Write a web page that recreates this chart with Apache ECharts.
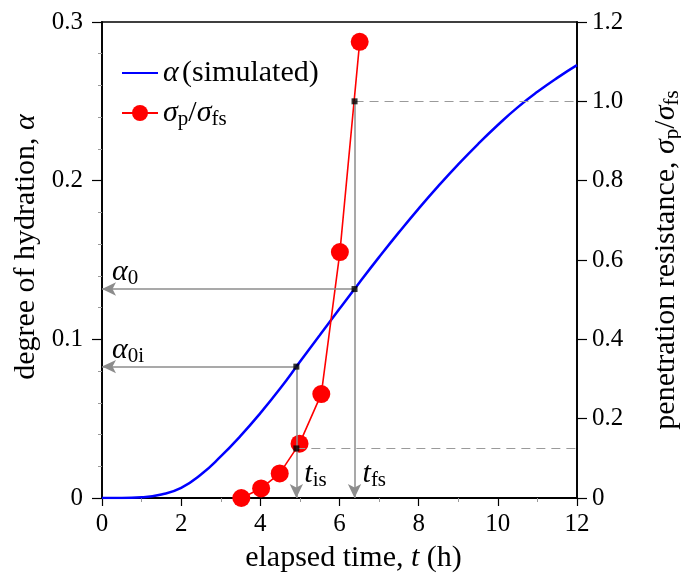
<!DOCTYPE html>
<html>
<head>
<meta charset="utf-8">
<script src="https://cdn.jsdelivr.net/npm/echarts@6/dist/echarts.min.js"></script>
<style>
  html, body { margin: 0; padding: 0; background: #fff; }
  #chart { width: 681px; height: 577px; }
</style>
</head>
<body>
<div id="chart"></div>
<script>
// Simulated degree of hydration vs elapsed time (h)
const hydrationTime  = [0, 0.5, 1, 1.5, 2, 2.5, 3, 3.5, 4, 4.5, 5, 5.5, 6, 6.5, 7, 7.5, 8, 8.5, 9, 9.5, 10, 10.5, 11, 11.5, 12];
const hydrationAlpha = [0, 0, 0.0004, 0.0022, 0.0064, 0.0148, 0.0262, 0.0392, 0.0535, 0.069, 0.0858, 0.1025, 0.1192, 0.1357, 0.1518, 0.1674, 0.1824, 0.1967, 0.2103, 0.2231, 0.2351, 0.2462, 0.256, 0.2648, 0.2728];

// Measured penetration resistance, normalised by the final-set value
const penetrationTime  = [3.52, 4.02, 4.49, 4.99, 5.54, 6.01, 6.51];
const penetrationRatio = [0, 0.024, 0.062, 0.137, 0.262, 0.62, 1.15];

// Initial / final set
const tInitialSet = 4.91;
const tFinalSet = 6.38;
const alphaInitialSet = 0.0828;
const alphaFinalSet = 0.1317;
const sigmaInitialSet = 0.125;
const sigmaFinalSet = 1.0;

// Tick labels
const xTickLabels = ['0', '2', '4', '6', '8', '10', '12'];
const leftTickLabels = ['0', '0.1', '0.2', '0.3'];
const rightTickLabels = ['0', '0.2', '0.4', '0.6', '0.8', '1.0', '1.2'];

const SERIF = '"Liberation Serif", "Times New Roman", serif';
const GREY = '#8c8c8c';

function richSet(size, subSize) {
  return {
    n: { fontFamily: SERIF, fontSize: size, lineHeight: size + 4, color: '#000' },
    i: { fontFamily: SERIF, fontSize: size, lineHeight: size + 4, fontStyle: 'italic', color: '#000' },
    s: { fontFamily: SERIF, fontSize: subSize, lineHeight: Math.round(subSize * 0.6), verticalAlign: 'bottom', color: '#000' }
  };
}
const richBig = richSet(30, 21);

const chart = echarts.init(document.getElementById('chart'), null, { renderer: 'canvas' });

const hydrationData = hydrationTime.map((t, k) => [t, hydrationAlpha[k]]);
const penetrationData = penetrationTime.map((t, k) => [t, penetrationRatio[k]]);

const tickFont = { fontFamily: SERIF, fontSize: 25, color: '#000' };

chart.setOption({
  animation: false,
  backgroundColor: '#fff',
  grid: {
    left: 102, right: 104, top: 22, bottom: 79,
    outerBoundsMode: 'none', containLabel: false,
    show: true, borderColor: '#000', borderWidth: 1.5, backgroundColor: 'transparent'
  },
  legend: {
    orient: 'vertical',
    left: 116, top: 53,
    itemWidth: 36, itemHeight: 20, itemGap: 10,
    data: [{ name: 'alpha', itemStyle: { opacity: 0 } }, { name: 'sigma' }],
    textStyle: { rich: richBig },
    formatter: function (name) {
      return name === 'alpha'
        ? '{i|α} {n|(simulated)}'
        : '{i|σ}{s|p}{n|/}{i|σ}{s|fs}';
    }
  },
  xAxis: {
    type: 'value', min: 0, max: 12, interval: 2,
    name: '{n|elapsed time, }{i|t}{n| (h)}',
    nameLocation: 'middle', nameGap: 43,
    nameTextStyle: { rich: richBig, padding: [0, 0, 0, 28] },
    axisLine: { lineStyle: { color: '#000', width: 1.8 } },
    axisTick: { length: 8, lineStyle: { color: '#000', width: 1.2 } },
    minorTick: { show: true, splitNumber: 2, length: 4, lineStyle: { color: '#999', width: 1 } },
    splitLine: { show: false },
    axisLabel: Object.assign({ margin: 14, formatter: v => xTickLabels[Math.round(v / 2)] }, tickFont)
  },
  yAxis: [
    {
      type: 'value', min: 0, max: 0.3, interval: 0.1, position: 'left',
      name: '{n|degree of hydration, }{i|α}',
      nameLocation: 'middle', nameGap: 58, nameRotate: 90,
      nameTextStyle: { rich: richBig, padding: [0, 0, 0, 26] },
      axisLine: { show: true, lineStyle: { color: '#000', width: 1.8 } },
      axisTick: { length: 10, lineStyle: { color: '#000', width: 1.2 } },
      minorTick: { show: true, splitNumber: 5, length: 4, lineStyle: { color: '#999', width: 1 } },
      splitLine: { show: false },
      axisLabel: Object.assign({ margin: 19, formatter: v => leftTickLabels[Math.round(v / 0.1)] }, tickFont)
    },
    {
      type: 'value', min: 0, max: 1.2, interval: 0.2, position: 'right',
      name: '{n|penetration resistance, }{i|σ}{s|p}{n|/}{i|σ}{s|fs}',
      nameLocation: 'middle', nameGap: 72, nameRotate: 90,
      nameTextStyle: { rich: richBig },
      axisLine: { show: true, lineStyle: { color: '#000', width: 1.8 } },
      axisTick: { length: 10, lineStyle: { color: '#000', width: 1.2 } },
      splitLine: { show: false },
      axisLabel: Object.assign({ margin: 15, formatter: v => rightTickLabels[Math.round(v / 0.2)] }, tickFont)
    }
  ],
  series: [
    {
      name: 'alpha', type: 'line', xAxisIndex: 0, yAxisIndex: 0,
      data: hydrationData, symbol: 'circle', symbolSize: 0, showSymbol: false, smooth: 0.5,
      lineStyle: { color: '#0000ff', width: 2.5 }, itemStyle: { color: '#0000ff' },
      z: 3,
      markLine: {
        silent: true, animation: false,
        symbol: ['arrow', 'none'], symbolSize: [10, 14],
        lineStyle: { color: GREY, width: 1.5, type: 'solid' },
        itemStyle: { color: GREY },
        label: { show: false },
        data: [
          [{ coord: [0, alphaFinalSet] }, { coord: [tFinalSet, alphaFinalSet] }],
          [{ coord: [0, alphaInitialSet] }, { coord: [tInitialSet, alphaInitialSet] }],
          [{ coord: [tInitialSet, 0] }, { coord: [tInitialSet, alphaInitialSet] }]
        ]
      },
      markPoint: {
        silent: true, symbol: 'circle', symbolSize: 0,
        label: { show: true, position: 'right', distance: 0, rich: richBig },
        data: [
          { coord: [0, alphaFinalSet], label: { formatter: '{i|α}{s|0}', offset: [10, -17] } },
          { coord: [0, alphaInitialSet], label: { formatter: '{i|α}{s|0i}', offset: [10, -17] } }
        ]
      }
    },
    {
      name: 'sigma', type: 'line', xAxisIndex: 0, yAxisIndex: 1,
      data: penetrationData, symbol: 'circle', symbolSize: 18, showSymbol: true,
      lineStyle: { color: '#ff0000', width: 1.6 }, itemStyle: { color: '#ff0000' },
      z: 4,
      markLine: {
        silent: true, animation: false,
        symbol: ['arrow', 'none'], symbolSize: [10, 14],
        lineStyle: { color: GREY, width: 1.5, type: 'solid' },
        itemStyle: { color: GREY },
        label: { show: false },
        data: [
          [{ coord: [tFinalSet, 0] }, { coord: [tFinalSet, sigmaFinalSet] }],
          [{ coord: [tFinalSet, sigmaFinalSet], symbol: 'none', lineStyle: { type: [9, 6], color: '#9a9a9a', width: 1.2 } },
           { coord: [12, sigmaFinalSet], symbol: 'none' }],
          [{ coord: [tInitialSet, sigmaInitialSet], symbol: 'none', lineStyle: { type: [9, 6], color: '#9a9a9a', width: 1.2 } },
           { coord: [12, sigmaInitialSet], symbol: 'none' }]
        ]
      },
      markPoint: {
        silent: true, symbol: 'circle', symbolSize: 0,
        label: { show: true, position: 'right', distance: 0, rich: richBig },
        data: [
          { coord: [tInitialSet, 0], label: { formatter: '{i|t}{s|is}', offset: [8, -24] } },
          { coord: [tFinalSet, 0], label: { formatter: '{i|t}{s|fs}', offset: [8, -24] } }
        ]
      }
    },
    {
      name: 'setAlpha', type: 'scatter', xAxisIndex: 0, yAxisIndex: 0,
      data: [[tInitialSet, alphaInitialSet], [tFinalSet, alphaFinalSet]],
      symbol: 'rect', symbolSize: 6, itemStyle: { color: '#000' }, z: 6, silent: true
    },
    {
      name: 'setSigma', type: 'scatter', xAxisIndex: 0, yAxisIndex: 1,
      data: [[tInitialSet, sigmaInitialSet], [tFinalSet, sigmaFinalSet]],
      symbol: 'rect', symbolSize: 6, itemStyle: { color: '#000' }, z: 6, silent: true
    }
  ]
});
</script>
</body>
</html>
